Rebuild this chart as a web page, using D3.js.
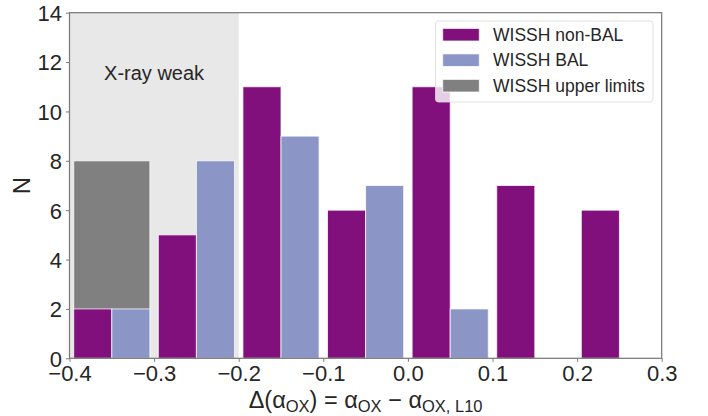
<!DOCTYPE html>
<html>
<head>
<meta charset="utf-8">
<script src="https://cdn.jsdelivr.net/npm/d3@7"></script>
<style>
  html, body { margin: 0; padding: 0; background: #fff; }
  svg { display: block; font-family: "Liberation Sans", Arial, sans-serif; }
</style>
</head>
<body>
<svg id="chart" width="708" height="416"></svg>
<script>
// ---- data ----
const binStarts = [-0.4, -0.3, -0.2, -0.1, 0.0, 0.1, 0.2];
const nonBAL = [2, 5, 11, 6, 11, 7, 6];
const bal = [2, 8, 9, 7, 2, 0, 0];
const upperLimits = [8, 0, 0, 0, 0, 0, 0];
const xTicks = [-0.4, -0.3, -0.2, -0.1, 0.0, 0.1, 0.2, 0.3];
const yTicks = [0, 2, 4, 6, 8, 10, 12, 14];
const xrayWeak = [-0.4, -0.2];
const seriesNames = ["WISSH non-BAL", "WISSH BAL", "WISSH upper limits"];
const colors = ["#810f7c", "#8c96c6", "#808080"];

// ---- layout ----
const binW = 0.1, rwidth = 0.9;
const svg = d3.select("#chart");
const x = d3.scaleLinear().domain([-0.4, 0.3]).range([69.5, 661.7]);
const y = d3.scaleLinear().domain([0, 14]).range([358.3, 12.7]);
const textColor = "#262626";
const spineColor = "#7a7a7a";

// shaded region
svg.append("rect")
  .attr("x", x(xrayWeak[0])).attr("y", y(14))
  .attr("width", x(xrayWeak[1]) - x(xrayWeak[0]))
  .attr("height", y(0) - y(14))
  .attr("fill", "#e8e8e8");

svg.append("text")
  .attr("x", x(-0.3)).attr("y", 80)
  .attr("text-anchor", "middle")
  .attr("font-size", 20).attr("fill", textColor)
  .text("X-ray weak");

// bars
const pad = binW * (1 - rwidth) / 2;
const totalW = binW * rwidth;
function drawBars(vals, color, offsetFrac, widthFrac) {
  svg.append("g").selectAll("rect")
    .data(binStarts.map((b, i) => ({b, v: vals[i]})).filter(d => d.v > 0))
    .join("rect")
    .attr("x", d => x(d.b + pad + totalW * offsetFrac))
    .attr("width", d => x(d.b + pad + totalW * (offsetFrac + widthFrac)) - x(d.b + pad + totalW * offsetFrac))
    .attr("y", d => y(d.v))
    .attr("height", d => y(0) - y(d.v))
    .attr("fill", color)
    .attr("stroke", "#ffffff").attr("stroke-opacity", 0.75).attr("stroke-width", 1);
}
drawBars(upperLimits, colors[2], 0, 1);
drawBars(nonBAL, colors[0], 0, 0.5);
drawBars(bal, colors[1], 0.5, 0.5);

// axes
const fmt = d3.format(".1f");
const xAxis = svg.append("g")
  .attr("transform", `translate(0,${y(0)})`)
  .call(d3.axisBottom(x).tickValues(xTicks).tickFormat(fmt).tickSizeOuter(0).tickSize(3.5).tickPadding(4));
const yAxis = svg.append("g")
  .attr("transform", `translate(${x(-0.4)},0)`)
  .call(d3.axisLeft(y).tickValues(yTicks).tickFormat(d3.format("d")).tickSizeOuter(0).tickSize(3.5).tickPadding(4));
[xAxis, yAxis].forEach(a => {
  a.select(".domain").remove();
  a.selectAll(".tick line").attr("stroke", spineColor).attr("stroke-width", 1);
  a.selectAll(".tick text").attr("fill", textColor).attr("font-size", 22)
    .attr("font-family", "'Liberation Sans', Arial, sans-serif");
});
yAxis.selectAll(".tick text").attr("dy", "0.36em");

// spines
svg.append("rect")
  .attr("x", x(-0.4)).attr("y", y(14))
  .attr("width", x(0.3) - x(-0.4)).attr("height", y(0) - y(14))
  .attr("fill", "none").attr("stroke", spineColor).attr("stroke-width", 1.25);

// axis labels
const xl = svg.append("text")
  .attr("x", (x(-0.4) + x(0.3)) / 2).attr("y", 408)
  .attr("text-anchor", "middle").attr("font-size", 23.5).attr("fill", textColor);
const parts = [["Δ(α", false], ["OX", true], [") = α", false], ["OX", true], [" − α", false], ["OX, L10", true]];
let prevSub = false;
parts.forEach(([t, sub]) => {
  const ts = xl.append("tspan").text(t);
  if (sub) { ts.attr("font-size", 16.5).attr("dy", prevSub ? 0 : 3.5); }
  else { ts.attr("dy", prevSub ? -3.5 : 0); }
  prevSub = sub;
});

svg.append("text")
  .attr("transform", `translate(30,${(y(0) + y(14)) / 2}) rotate(-90)`)
  .attr("text-anchor", "middle").attr("font-size", 24).attr("fill", textColor)
  .text("N");

// legend
const lg = svg.append("g");
lg.append("rect")
  .attr("x", 435.5).attr("y", 21).attr("width", 217.5).attr("height", 81)
  .attr("rx", 3).attr("fill", "#ffffff").attr("fill-opacity", 0.8)
  .attr("stroke", "#d9d9d9").attr("stroke-opacity", 0.8).attr("stroke-width", 1);
seriesNames.forEach((name, i) => {
  const cy = 34.7 + i * 25.5;
  lg.append("rect")
    .attr("x", 442.7).attr("y", cy - 6.3).attr("width", 36.6).attr("height", 12.6)
    .attr("fill", colors[i]).attr("stroke", "#ffffff").attr("stroke-opacity", 0.75).attr("stroke-width", 1);
  lg.append("text")
    .attr("x", 493).attr("y", cy + 6.2)
    .attr("font-size", 17.5).attr("fill", textColor)
    .text(name);
});
</script>
</body>
</html>
